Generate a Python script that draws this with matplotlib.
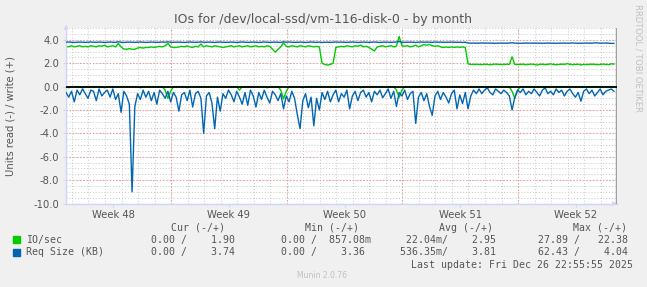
import matplotlib
matplotlib.use("Agg")
import matplotlib.pyplot as plt
import numpy as np

# ---------------- data (step = 4 hours, day index = i/6) ----------------
write_io = [
 3.45,3.40,3.50,3.40,3.45,3.50,3.40,3.45,3.40,3.50,
 3.45,3.40,3.50,3.45,3.55,3.40,3.45,3.50,3.40,3.70,
 3.40,3.22,3.20,3.25,3.20,3.20,3.30,3.35,3.30,3.35,
 3.35,3.40,3.35,3.40,3.45,3.40,3.50,3.70,3.40,3.35,
 3.35,3.40,3.45,3.40,3.50,3.40,3.35,3.45,3.40,3.65,
 3.40,3.50,3.45,3.40,3.50,3.45,3.40,3.35,3.40,3.45,
 3.50,3.40,3.45,3.50,3.40,3.45,3.50,3.40,3.45,3.50,
 3.40,3.45,3.40,3.50,3.45,3.20,2.95,3.20,3.40,3.75,
 3.45,3.40,3.50,3.45,3.40,3.50,3.45,3.40,3.50,3.45,
 3.40,3.45,3.40,2.00,1.90,1.85,1.90,2.00,3.35,3.40,
 3.45,3.40,3.50,3.45,3.40,3.50,3.45,3.55,3.40,3.45,
 3.35,3.20,3.05,3.40,3.45,3.50,3.40,3.45,3.50,3.40,
 3.45,4.30,3.50,3.45,3.50,3.40,3.45,3.55,3.40,3.50,
 3.60,3.55,3.60,3.50,3.45,3.50,3.40,3.35,3.40,3.35,
 3.40,3.35,3.40,3.35,3.40,3.35,1.95,1.90,1.90,1.90,
 1.90,1.88,1.92,1.90,1.87,1.90,1.93,1.90,1.88,1.90,
 1.92,1.90,2.55,1.90,1.88,1.90,1.92,1.87,1.90,1.93,
 1.90,1.85,1.90,1.92,1.88,1.90,1.95,1.90,1.87,1.90,
 1.92,1.90,1.97,1.90,1.88,1.90,1.92,1.86,1.90,1.88,
 1.90,1.92,1.90,1.87,1.90,1.93,1.90,1.88,1.95,1.93,
]
write_req = [
 3.80,3.82,3.80,3.78,3.80,3.81,3.80,3.79,3.80,3.82,
 3.80,3.79,3.81,3.80,3.78,3.80,3.82,3.80,3.79,3.84,
 3.80,3.78,3.80,3.81,3.80,3.79,3.80,3.82,3.80,3.78,
 3.80,3.81,3.80,3.79,3.80,3.82,3.80,3.83,3.80,3.79,
 3.80,3.81,3.80,3.78,3.80,3.82,3.80,3.79,3.80,3.83,
 3.80,3.79,3.81,3.80,3.78,3.80,3.82,3.80,3.79,3.80,
 3.81,3.80,3.78,3.80,3.82,3.80,3.79,3.80,3.81,3.80,
 3.78,3.80,3.82,3.80,3.79,3.80,3.81,3.80,3.78,3.84,
 3.80,3.82,3.80,3.79,3.80,3.81,3.80,3.78,3.80,3.82,
 3.80,3.79,3.81,3.78,3.80,3.80,3.79,3.80,3.82,3.80,
 3.81,3.80,3.79,3.80,3.82,3.80,3.78,3.80,3.81,3.80,
 3.79,3.80,3.82,3.80,3.78,3.80,3.81,3.80,3.79,3.80,
 3.82,3.86,3.80,3.79,3.80,3.81,3.80,3.78,3.80,3.82,
 3.80,3.81,3.80,3.79,3.82,3.80,3.81,3.80,3.79,3.80,
 3.81,3.80,3.79,3.80,3.78,3.80,3.74,3.72,3.73,3.72,
 3.72,3.74,3.72,3.73,3.72,3.72,3.71,3.72,3.73,3.72,
 3.72,3.73,3.76,3.72,3.72,3.71,3.72,3.73,3.72,3.72,
 3.73,3.72,3.72,3.71,3.72,3.73,3.72,3.72,3.71,3.72,
 3.72,3.73,3.72,3.72,3.74,3.72,3.71,3.72,3.72,3.73,
 3.72,3.72,3.75,3.74,3.72,3.72,3.73,3.72,3.70,3.70,
]
read_io = [
 0.0,0.1,0.0,0.0,0.0,0.0,0.1,0.0,0.0,0.0,
 0.0,0.0,0.0,0.0,0.1,0.0,0.0,0.0,0.0,0.0,
 0.0,0.0,0.0,0.0,0.0,0.0,0.0,0.1,0.0,0.0,
 0.0,0.0,0.0,0.0,0.0,0.0,0.3,1.0,0.4,0.0,
 0.0,0.0,0.0,0.0,0.1,0.0,0.0,0.0,0.0,0.0,
 0.0,0.0,0.0,0.0,0.0,0.0,0.0,0.0,0.0,0.0,
 0.0,0.0,0.0,0.3,0.0,0.0,0.0,0.0,0.0,0.0,
 0.0,0.0,0.0,0.1,0.0,0.0,0.0,0.0,0.3,1.05,
 0.4,0.0,0.0,0.0,0.0,0.0,0.1,0.0,0.0,0.0,
 0.0,0.0,0.0,0.0,0.0,0.0,0.0,0.0,0.0,0.0,
 0.0,0.0,0.0,0.0,0.0,0.0,0.0,0.1,0.0,0.0,
 0.0,0.0,0.0,0.0,0.0,0.0,0.0,0.0,0.0,0.0,
 0.3,0.9,0.3,0.0,0.0,0.0,0.0,0.0,0.0,0.0,
 0.0,0.0,0.0,0.0,0.0,0.0,0.0,0.0,0.0,0.0,
 0.0,0.0,0.0,0.0,0.0,0.0,0.0,0.0,0.0,0.0,
 0.0,0.0,0.0,0.0,0.0,0.0,0.0,0.0,0.0,0.0,
 0.0,0.0,0.4,1.0,0.3,0.0,0.0,0.0,0.0,0.0,
 0.0,0.0,0.0,0.0,0.0,0.0,0.0,0.0,0.0,0.0,
 0.0,0.0,0.0,0.0,0.0,0.0,0.0,0.0,0.0,0.0,
 0.0,0.0,0.0,0.0,0.0,0.0,0.0,0.0,0.0,0.0,
]
read_req = [
 0.5,0.9,0.4,1.3,0.3,0.7,0.2,0.6,1.0,0.3,
 0.4,1.2,0.2,0.8,0.5,0.3,0.9,0.2,1.1,0.6,
 2.2,0.4,0.8,1.5,9.0,1.7,0.6,1.1,0.3,0.9,
 0.4,1.2,0.5,1.5,0.3,0.6,1.0,0.4,1.3,0.5,
 0.9,2.1,0.7,0.5,1.2,0.3,1.75,0.6,0.4,1.0,
 4.0,0.8,0.5,1.4,3.6,0.9,2.1,0.6,1.0,0.3,
 0.7,1.3,0.4,0.9,1.5,0.5,1.6,0.3,0.8,1.75,
 0.5,1.1,0.3,0.9,1.4,0.4,0.7,1.2,0.6,1.9,
 0.8,1.3,0.4,1.0,2.4,3.6,1.2,0.6,1.8,0.9,
 3.35,1.0,2.0,0.5,1.1,0.4,1.3,0.7,0.3,1.3,
 0.6,0.9,0.3,1.9,0.8,0.4,1.2,0.5,0.3,0.9,
 0.5,1.3,0.4,0.7,0.3,0.95,0.6,0.2,1.0,0.4,
 1.7,0.5,0.8,0.3,1.1,0.6,0.4,3.15,0.9,0.5,
 1.2,0.6,1.7,2.45,0.8,0.4,1.1,0.5,0.9,1.4,
 0.6,0.3,1.9,0.7,1.45,0.5,1.9,0.8,0.3,0.6,
 0.2,0.6,0.3,0.1,0.5,0.7,0.2,0.4,0.6,0.3,
 0.5,0.8,2.0,0.9,0.3,0.5,0.2,0.7,0.4,0.6,
 0.2,0.5,0.8,0.3,0.1,0.6,0.4,0.7,0.2,0.5,
 0.3,0.8,0.4,0.2,0.6,0.9,0.5,1.25,0.4,0.2,
 0.6,0.3,0.8,0.5,0.2,0.7,0.4,0.3,0.2,0.4,
]
week_labels = ["Week 48", "Week 49", "Week 50", "Week 51", "Week 52"]
legend_names = ["IO/sec", "Req Size (KB)"]
cur = [("0.00 /", "1.90"), ("0.00 /", "3.74")]
mins = [("0.00 /", "857.08m"), ("0.00 /", "3.36")]
avgs = [("22.04m/", "2.95"), ("536.35m/", "3.81")]
maxs = [("27.89 /", "22.38"), ("62.43 /", "4.04")]

GREEN = "#00CC00"
BLUE = "#0066B3"
FONT = "#555555"
W, H = 647, 287

x = np.arange(len(write_io)) / 6.0
first_monday = 6.36
xmax = 33.32

fig = plt.figure(figsize=(W / 100, H / 100), dpi=100, facecolor="#F0F0F0")
ax = fig.add_axes([66 / W, 1 - 203.5 / H, (616.5 - 66) / W, (203.5 - 28.2) / H])
ax.set_facecolor("white")
ax.set_xlim(0, xmax)
ax.set_ylim(-10, 5)

# grid
for d in np.arange(first_monday - 6, xmax, 1.0):
    ax.axvline(d, color="#c8c8c8", lw=0.7, ls=(0, (1, 2)), zorder=0)
for y in np.arange(-10, 5.01, 0.5):
    ax.axhline(y, color="#c8c8c8", lw=0.7, ls=(0, (1, 2)), zorder=0)
for d in np.arange(first_monday, xmax, 7.0):
    ax.axvline(d, color="#f09090", lw=0.8, ls=(0, (1, 2)), zorder=0.5)
for y in np.arange(-10, 5, 2.0):
    if y != 0:
        ax.axhline(y, color="#f09090", lw=0.8, ls=(0, (1, 2)), zorder=0.5)

ax.plot(x, -np.array(read_io), color=GREEN, lw=1.0, zorder=2)
ax.plot(x, -np.array(read_req), color=BLUE, lw=1.0, zorder=3)
ax.plot(x, write_io, color=GREEN, lw=1.0, zorder=2)
ax.plot(x, write_req, color=BLUE, lw=1.0, zorder=3)
ax.axhline(0, color="black", lw=1.3, zorder=5)
ax.axvline(xmax - 0.01, color="#a0a0a0", lw=1.0, zorder=4)

for s in ["top", "right"]:
    ax.spines[s].set_visible(False)
for s in ["left", "bottom"]:
    ax.spines[s].set_color("#CFD6F8")
    ax.spines[s].set_linewidth(1.0)

ax.set_yticks(np.arange(-10, 4.1, 2.0))
ax.set_yticklabels([f"{v:.1f}" for v in np.arange(-10, 4.1, 2.0)])
ax.set_xticks([first_monday - 3.5 + 7 * k for k in range(5)])
ax.set_xticklabels(week_labels)
ax.tick_params(axis="both", colors="#CFD6F8", labelcolor=FONT, labelsize=7.2, length=2, width=0.8, pad=3)

# arrows
ax.annotate("", xy=(620 / W, 1 - 203.5 / H), xytext=(612 / W, 1 - 203.5 / H), xycoords="figure fraction",
            arrowprops=dict(arrowstyle="-|>", color="#CFD6F8", lw=0.8, mutation_scale=6))
ax.annotate("", xy=(66 / W, 1 - 22 / H), xytext=(66 / W, 1 - 30 / H), xycoords="figure fraction",
            arrowprops=dict(arrowstyle="-|>", color="#CFD6F8", lw=0.8, mutation_scale=6))

def ft(px, py, s, **kw):
    fig.text(px / W, 1 - py / H, s, **kw)

ft(323, 19, "IOs for /dev/local-ssd/vm-116-disk-0 - by month", ha="center", va="center",
   fontsize=9, color=FONT, family="DejaVu Sans")
ft(11, 116, "Units read (-) / write (+)", ha="center", va="center", rotation=90,
   fontsize=7.2, color=FONT, family="DejaVu Sans")
ft(638, 4, "RRDTOOL / TOBI OETIKER", ha="center", va="top", rotation=-90,
   fontsize=6, color="#c0c0c0", family="DejaVu Sans")
ft(322, 276, "Munin 2.0.76", ha="center", va="center", fontsize=5.5, color="#c0c0c0", family="DejaVu Sans")

mono = dict(family="DejaVu Sans Mono", fontsize=7.1, color=FONT, va="center")
ft(225, 228, "Cur (-/+)", ha="right", **mono)
ft(359, 228, "Min (-/+)", ha="right", **mono)
ft(493, 228, "Avg (-/+)", ha="right", **mono)
ft(627, 228, "Max (-/+)", ha="right", **mono)
rows_y = [239.5, 252]
colors = [GREEN, BLUE]
for r in range(2):
    yy = rows_y[r]
    fig.patches.append(plt.Rectangle((13 / W, 1 - (yy + 3.5) / H), 7 / W, 7 / H,
                                     transform=fig.transFigure, color=colors[r]))
    ft(26, yy, legend_names[r], ha="left", **mono)
    ft(235, yy, f"{cur[r][0]}{cur[r][1]:>8}", ha="right", **mono)
    ft(281, yy, f"{mins[r][0]}{mins[r][1]:>9}".rstrip() if r == 0 else f"{mins[r][0]}{mins[r][1]:>8}", ha="left", **mono)
    ft(496, yy, f"{avgs[r][0]}{avgs[r][1]:>8}", ha="right", **mono)
    ft(628, yy, f"{maxs[r][0]}{maxs[r][1]:>8}", ha="right", **mono)
ft(633, 264.5, "Last update: Fri Dec 26 22:55:55 2025", ha="right", **mono)

fig.savefig("out.png", dpi=100, facecolor=fig.get_facecolor())
